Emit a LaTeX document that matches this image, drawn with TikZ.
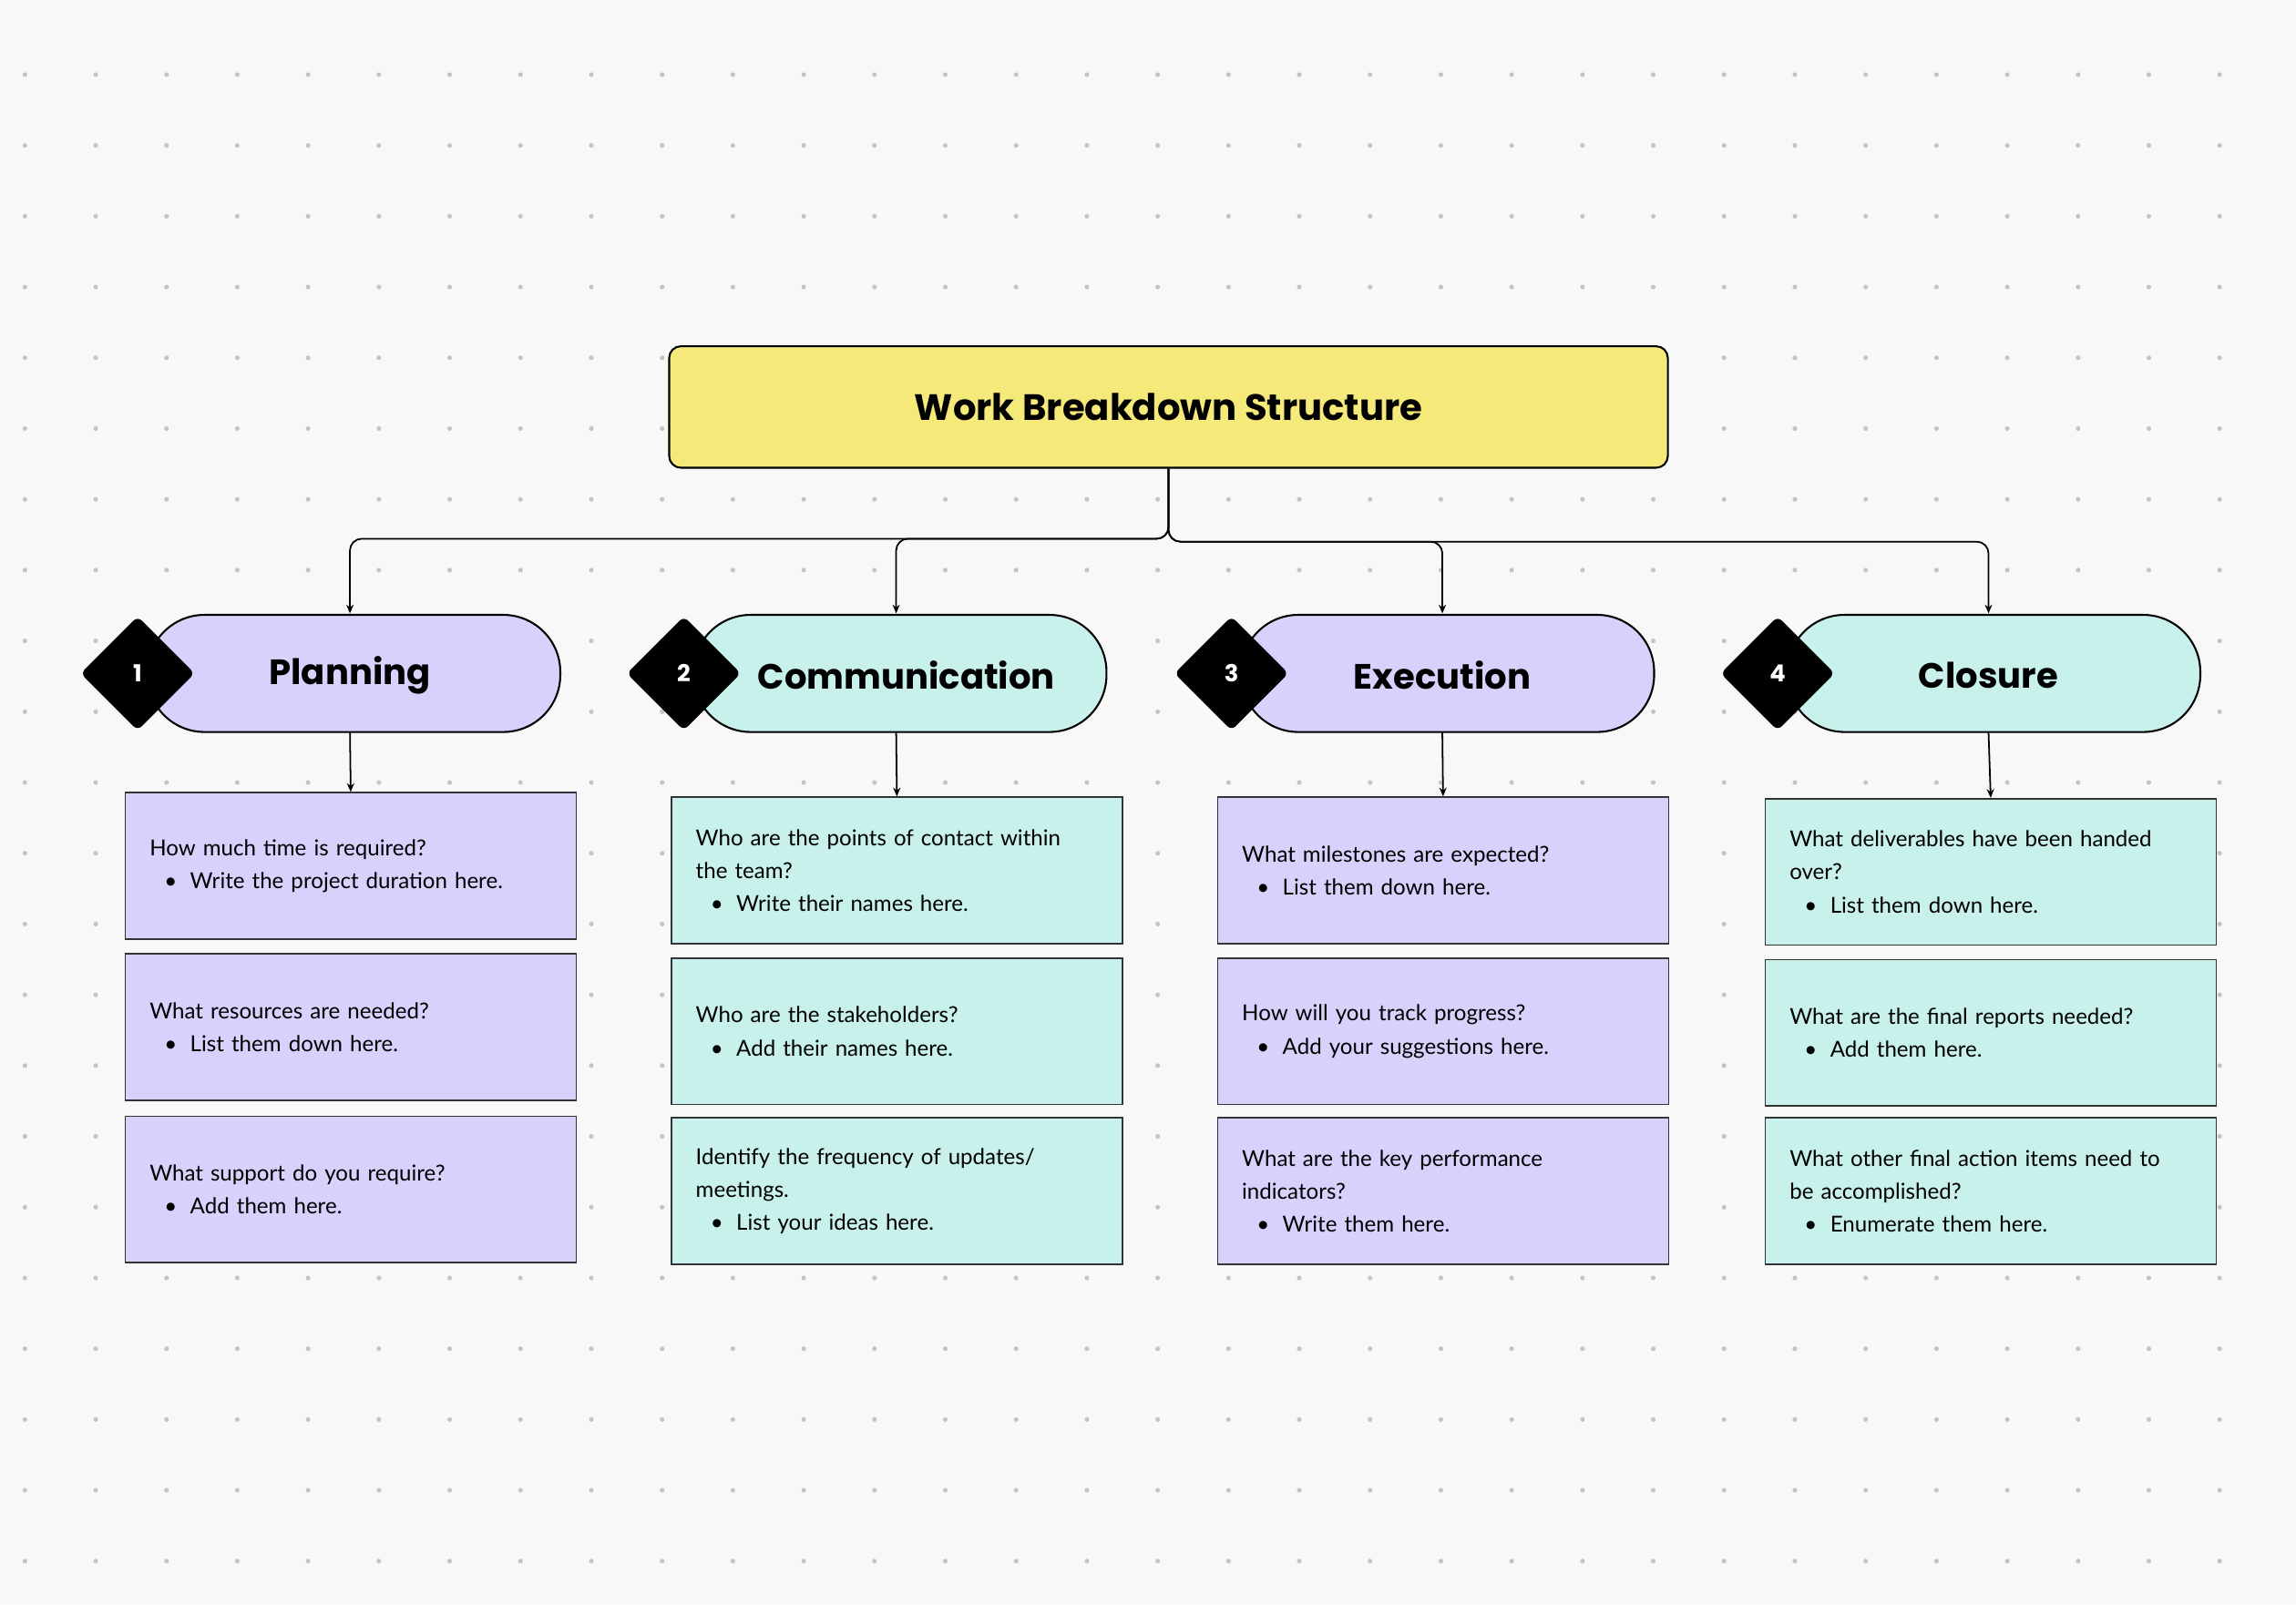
\documentclass[tikz,border=0pt]{standalone}
\usepackage{fontspec}
\setmainfont{Lato}
\newfontfamily\headfont{Poppins}
\usetikzlibrary{arrows.meta,shapes.geometric}
\definecolor{bg}{HTML}{F8F8F8}
\definecolor{dotc}{HTML}{C4C4C4}
\definecolor{ttl}{HTML}{F5E97A}
\definecolor{pur}{HTML}{D9D0FC}
\definecolor{teal}{HTML}{C8F1EC}
\tikzset{
 pill/.style={draw=black,line width=1.3pt,rounded corners=39pt,minimum width=282pt,minimum height=80pt,anchor=west},
 dia/.style={diamond,fill=black,minimum width=78pt,minimum height=78pt,inner sep=0pt,rounded corners=4pt,text=white,font=\headfont\bfseries\fontsize{16}{16}\selectfont},
 card/.style={draw=black!80,line width=1pt,minimum width=308pt,minimum height=100pt,anchor=north west},
 ctext/.style={anchor=west,align=left,text width=285pt,inner sep=0pt,font=\fontsize{15}{22.5}\selectfont},
 plab/.style={font=\headfont\bfseries\fontsize{24}{24}\selectfont},
 con/.style={line width=1.1pt,-{Stealth[length=6pt,width=5pt]}},
}
\newcommand{\bul}[1]{\\\hspace*{10pt}\textbullet\hspace{9pt}#1}
\begin{document}
\begin{tikzpicture}[x=1pt,y=-1pt]
\fill[bg] (0,0) rectangle (1568,1096);
\useasboundingbox (0,0) rectangle (1568,1096);
\foreach \i in {0,...,31}{\foreach \j in {0,...,21}{
 \fill[dotc] ({17+48.35*\i},{51+48.35*\j}) circle (1.6pt);}}
\node[draw=black,line width=1.3pt,fill=ttl,rounded corners=8pt,minimum width=682pt,minimum height=83pt] (title) at (798,278) {\headfont\bfseries\fontsize{25}{25}\selectfont Work Breakdown Structure};
% pills
\node[pill,fill=pur] (p1) at (100,460) {}; \node[plab] at (239,461) {Planning};
\node[pill,fill=teal] (p2) at (473,460) {}; \node[plab] at (619,461) {Communication};
\node[pill,fill=pur] (p3) at (847,460) {}; \node[plab] at (985,461) {Execution};
\node[pill,fill=teal] (p4) at (1220,460) {}; \node[plab] at (1358,461) {Closure};
\node[dia] (d1) at (94,460) {1};
\node[dia] (d2) at (467,460) {2};
\node[dia] (d3) at (841,460) {3};
\node[dia] (d4) at (1214,460) {4};
\coordinate (t1) at (239,419); \coordinate (t2) at (612,419);
\coordinate (t3) at (985,419); \coordinate (t4) at (1358,419);
\draw[con,rounded corners=8pt] (title.south) -- (798,368) -- (239,368) -- (t1);
\draw[con,rounded corners=8pt] (title.south) -- (798,368) -- (612,368) -- (t2);
\draw[con,rounded corners=8pt] (title.south) -- (798,370) -- (985,370) -- (t3);
\draw[con,rounded corners=8pt] (title.south) -- (798,370) -- (1358,370) -- (t4);
% cards
\node[card,fill=pur] (a1) at (85,541) {};
\node[card,fill=pur] (a2) at (85,651) {};
\node[card,fill=pur] (a3) at (85,762) {};
\node[card,fill=teal] (b1) at (458,544) {};
\node[card,fill=teal] (b2) at (458,654) {};
\node[card,fill=teal] (b3) at (458,763) {};
\node[card,fill=pur] (c1) at (831,544) {};
\node[card,fill=pur] (c2) at (831,654) {};
\node[card,fill=pur] (c3) at (831,763) {};
\node[card,fill=teal] (e1) at (1205,545) {};
\node[card,fill=teal] (e2) at (1205,655) {};
\node[card,fill=teal] (e3) at (1205,763) {};
\draw[con] (239,500) -- (a1.north);
\draw[con] (612,500) -- (b1.north);
\draw[con] (985,500) -- (c1.north);
\draw[con] (1358,500) -- (e1.north);
\node[ctext] at ([xshift=17pt]a1.west) {How much time is required?\bul{Write the project duration here.}};
\node[ctext] at ([xshift=17pt]a2.west) {What resources are needed?\bul{List them down here.}};
\node[ctext] at ([xshift=17pt]a3.west) {What support do you require?\bul{Add them here.}};
\node[ctext] at ([xshift=17pt]b1.west) {Who are the points of contact within\\the team?\bul{Write their names here.}};
\node[ctext] at ([xshift=17pt]b2.west) {Who are the stakeholders?\bul{Add their names here.}};
\node[ctext] at ([xshift=17pt]b3.west) {Identify the frequency of updates/\\meetings.\bul{List your ideas here.}};
\node[ctext] at ([xshift=17pt]c1.west) {What milestones are expected?\bul{List them down here.}};
\node[ctext] at ([xshift=17pt]c2.west) {How will you track progress?\bul{Add your suggestions here.}};
\node[ctext] at ([xshift=17pt]c3.west) {What are the key performance\\indicators?\bul{Write them here.}};
\node[ctext] at ([xshift=17pt]e1.west) {What deliverables have been handed\\over?\bul{List them down here.}};
\node[ctext] at ([xshift=17pt]e2.west) {What are the final reports needed?\bul{Add them here.}};
\node[ctext] at ([xshift=17pt]e3.west) {What other final action items need to\\be accomplished?\bul{Enumerate them here.}};
\end{tikzpicture}
\end{document}
